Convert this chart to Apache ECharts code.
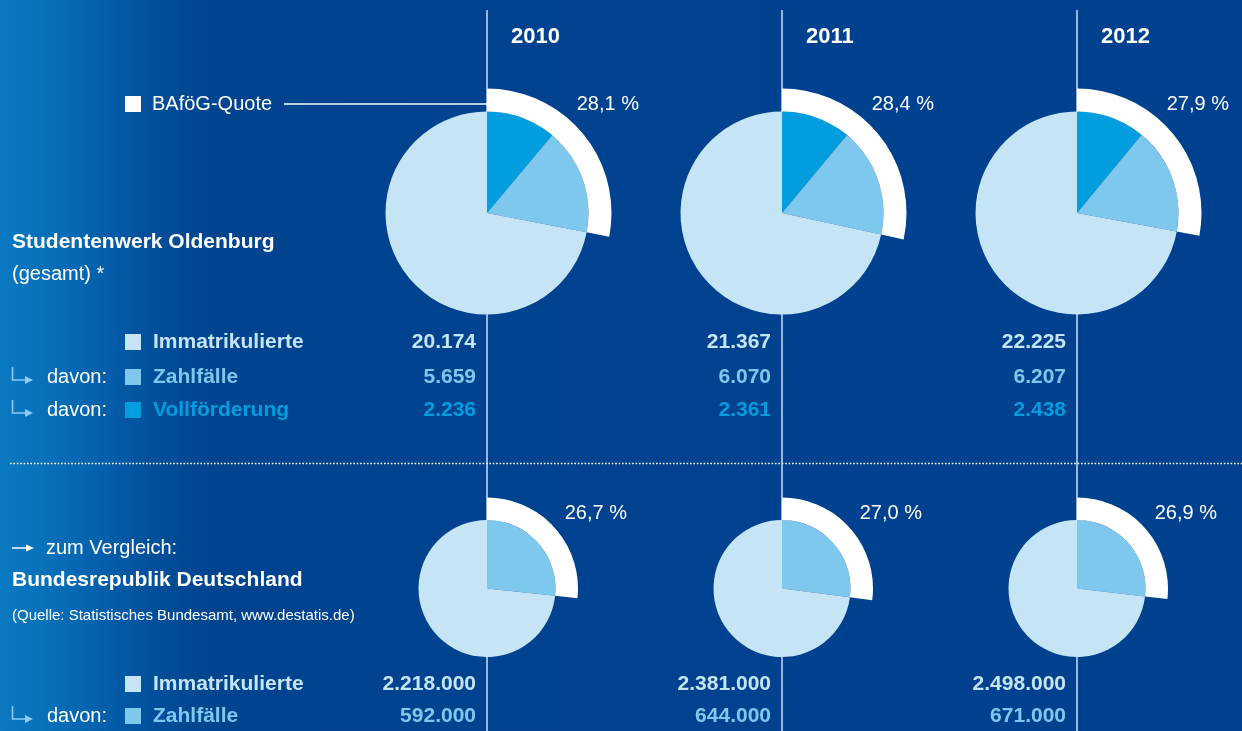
<!DOCTYPE html>
<html><head><meta charset="utf-8">
<script src="https://cdn.jsdelivr.net/npm/echarts@6/dist/echarts.min.js"></script>
<style>html,body{margin:0;padding:0;background:#00418f;overflow:hidden}#c{width:1242px;height:731px}</style>
</head><body><div id="c"></div>
<script>
// ---- data ----
const years = ['2010', '2011', '2012'];
const swoImmatrikulierte = [20174, 21367, 22225];
const swoZahlfaelle = [5659, 6070, 6207];
const swoVollfoerderung = [2236, 2361, 2438];
const swoQuote = [28.1, 28.4, 27.9];
const brdImmatrikulierte = [2218000, 2381000, 2498000];
const brdZahlfaelle = [592000, 644000, 671000];
const brdQuote = [26.7, 27.0, 26.9];

// ---- layout / style ----
const C = { rest: '#c5e5f6', zahl: '#7ec8ee', voll: '#009edf', white: '#ffffff', vline: '#d2ddec', arrow: '#8ccaef' };
const colX = [487, 782, 1077];
const FONT = '"Liberation Sans", Arial, sans-serif';
const fB = s => 'bold ' + s + 'px ' + FONT;
const fR = s => s + 'px ' + FONT;
const fmt = n => String(n).replace(/\B(?=(\d{3})+(?!\d))/g, '.');
const fmtPct = v => v.toFixed(1).replace('.', ',') + ' %';

const chart = echarts.init(document.getElementById('c'), null, { renderer: 'canvas' });
const els = [];
els.push({ type: 'rect', shape: { x: 0, y: 0, width: 1242, height: 731 }, silent: true,
  style: { fill: new echarts.graphic.LinearGradient(0, 0, 1, 0, [
    { offset: 0, color: '#0a79c1' }, { offset: 0.03, color: '#0872bb' }, { offset: 0.06, color: '#0668b3' },
    { offset: 0.09, color: '#045ca8' }, { offset: 0.12, color: '#02509c' }, { offset: 0.15, color: '#014893' },
    { offset: 0.18, color: '#00438f' }, { offset: 1, color: '#00418f' }]) } });

function txt(x, y, text, font, fill, align) {
  els.push({ type: 'text', silent: true, style: { x: x, y: y, text: text, font: font, fill: fill, align: align || 'left', verticalAlign: 'middle' } });
}
function sq(x, y, fill) {
  els.push({ type: 'rect', silent: true, shape: { x: x, y: y - 8, width: 16, height: 16 }, style: { fill: fill } });
}
function hookArrow(y) {
  els.push({ type: 'polyline', silent: true, shape: { points: [[12.5, y - 10], [12.5, y + 3], [27, y + 3]] }, style: { stroke: C.arrow, lineWidth: 1.6, fill: null } });
  els.push({ type: 'polygon', silent: true, shape: { points: [[25, y - 1], [33, y + 3], [25, y + 7]] }, style: { fill: C.arrow } });
}

// vertical lines
colX.forEach(x => els.push({ type: 'line', silent: true, shape: { x1: x, y1: 10, x2: x, y2: 731 }, style: { stroke: C.vline, lineWidth: 1.5 } }));
// dotted separator
els.push({ type: 'line', silent: true, shape: { x1: 10, y1: 463.5, x2: 1242, y2: 463.5 }, style: { stroke: '#ffffff', lineWidth: 1.6, lineDash: [1.6, 1.8] } });
// BAföG-Quote legend + connector
sq(125, 104, C.white);
txt(152, 104, 'BAföG-Quote', fR(20), C.white);
els.push({ type: 'line', silent: true, shape: { x1: 284, y1: 104, x2: 487, y2: 104 }, style: { stroke: '#ffffff', lineWidth: 1.5 } });

// left labels top
txt(12, 242, 'Studentenwerk Oldenburg', fB(21), C.white);
txt(12, 274, '(gesamt) *', fR(20), C.white);
sq(125, 342, C.rest); txt(153, 342, 'Immatrikulierte', fB(21), C.rest);
hookArrow(377); txt(47, 377, 'davon:', fR(20), C.white); sq(125, 377, C.zahl); txt(153, 377, 'Zahlfälle', fB(21), C.zahl);
hookArrow(410); txt(47, 410, 'davon:', fR(20), C.white); sq(125, 410, C.voll); txt(153, 410, 'Vollförderung', fB(21), C.voll);

// left labels bottom
els.push({ type: 'line', silent: true, shape: { x1: 12, y1: 548, x2: 28, y2: 548 }, style: { stroke: '#ffffff', lineWidth: 1.5 } });
els.push({ type: 'polygon', silent: true, shape: { points: [[26, 544.5], [34, 548], [26, 551.5]] }, style: { fill: '#ffffff' } });
txt(46, 548, 'zum Vergleich:', fR(20), C.white);
txt(12, 580, 'Bundesrepublik Deutschland', fB(21), C.white);
txt(12, 616, '(Quelle: Statistisches Bundesamt, www.destatis.de)', fR(15), C.white);
sq(125, 684, C.rest); txt(153, 684, 'Immatrikulierte', fB(21), C.rest);
hookArrow(716); txt(47, 716, 'davon:', fR(20), C.white); sq(125, 716, C.zahl); txt(153, 716, 'Zahlfälle', fB(21), C.zahl);

// per-year texts
const series = [];
years.forEach((yr, i) => {
  const x = colX[i];
  txt(x + 24, 37, yr, fB(22), C.white);
  txt(x + 152, 104, fmtPct(swoQuote[i]), fR(20), C.white, 'right');
  txt(x - 11, 342, fmt(swoImmatrikulierte[i]), fB(21), C.rest, 'right');
  txt(x - 11, 377, fmt(swoZahlfaelle[i]), fB(21), C.zahl, 'right');
  txt(x - 11, 410, fmt(swoVollfoerderung[i]), fB(21), C.voll, 'right');
  txt(x + 140, 513, fmtPct(brdQuote[i]), fR(20), C.white, 'right');
  txt(x - 11, 684, fmt(brdImmatrikulierte[i]), fB(21), C.rest, 'right');
  txt(x - 11, 716, fmt(brdZahlfaelle[i]), fB(21), C.zahl, 'right');

  const base = { type: 'pie', startAngle: 90, clockwise: true, silent: true, animation: false,
    label: { show: false }, labelLine: { show: false }, emphasis: { disabled: true }, itemStyle: { borderWidth: 0 } };
  series.push(Object.assign({}, base, { center: [x, 213], radius: [0, 101.5], data: [
    { value: swoVollfoerderung[i], itemStyle: { color: C.voll } },
    { value: swoZahlfaelle[i] - swoVollfoerderung[i], itemStyle: { color: C.zahl } },
    { value: swoImmatrikulierte[i] - swoZahlfaelle[i], itemStyle: { color: C.rest } }] }));
  series.push(Object.assign({}, base, { center: [x, 213], radius: [101.5, 124.5], data: [
    { value: swoZahlfaelle[i], itemStyle: { color: C.white } },
    { value: swoImmatrikulierte[i] - swoZahlfaelle[i], itemStyle: { color: 'rgba(0,0,0,0)' } }] }));
  series.push(Object.assign({}, base, { center: [x, 588.5], radius: [0, 68.5], data: [
    { value: brdZahlfaelle[i], itemStyle: { color: C.zahl } },
    { value: brdImmatrikulierte[i] - brdZahlfaelle[i], itemStyle: { color: C.rest } }] }));
  series.push(Object.assign({}, base, { center: [x, 588.5], radius: [68.5, 91], data: [
    { value: brdZahlfaelle[i], itemStyle: { color: C.white } },
    { value: brdImmatrikulierte[i] - brdZahlfaelle[i], itemStyle: { color: 'rgba(0,0,0,0)' } }] }));
});

chart.setOption({
  backgroundColor: '#00418f',
  animation: false,
  graphic: { elements: els },
  series: series
});
</script></body></html>
